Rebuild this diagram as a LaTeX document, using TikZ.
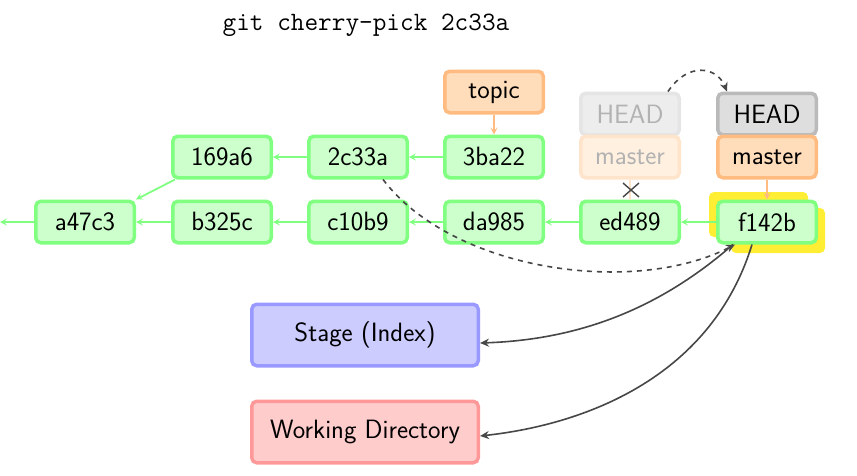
\documentclass[tikz,border=0pt]{standalone}
\usetikzlibrary{arrows.meta}
\begin{document}
\begin{tikzpicture}[x=1pt,y=-1pt,
  every node/.style={font=\sffamily\fontsize{26.5}{30}\selectfont},
  box/.style={rounded corners=5pt,line width=3.5pt,minimum width=98.5pt,minimum height=41.5pt,inner sep=0pt},
  commit/.style={box,draw=cgreenB,fill=cgreenF},
  branch/.style={box,draw=corangeB,fill=corangeF},
  oldbranch/.style={box,draw=corangeB!40,fill=corangeF!45,text=black!30},
  headbox/.style={box,draw=black!27,fill=black!13},
  oldhead/.style={box,draw=black!10,fill=black!7,text=black!30},
  area/.style={rounded corners=5pt,line width=3.5pt,minimum width=226.5pt,minimum height=61.5pt,inner sep=0pt},
  parent/.style={draw=cgreenB,line width=1.8pt,-{Stealth[length=7pt,width=7pt,inset=3pt]}},
  ref/.style={draw=corangeB,line width=1.8pt,-{Stealth[length=7pt,width=7pt,inset=3pt]}},
  flow/.style={draw=black!72,line width=1.6pt,-{Stealth[length=9pt,width=8pt,inset=3pt]}},
  dflow/.style={flow,dash pattern=on 5pt off 5pt}
]
\definecolor{cgreenB}{HTML}{80FF80}
\definecolor{cgreenF}{HTML}{CCFFCC}
\definecolor{corangeB}{HTML}{FFBB80}
\definecolor{corangeF}{HTML}{FFDDBB}
\definecolor{cyellow}{HTML}{FFEE33}
\useasboundingbox (0,0) rectangle (857,475);

\node[font=\ttfamily\fontsize{26.5}{30}\selectfont] (title) at (366,25) {git cherry-pick 2c33a};

% highlight behind f142b
\fill[cyellow,rounded corners=5pt] (709,192) rectangle (808,237);
\fill[cyellow,rounded corners=5pt] (731,208) rectangle (825,253);

% commits
\node[commit] (a47c3) at (85,222) {a47c3};
\node[commit] (b325c) at (222,222) {b325c};
\node[commit] (c10b9) at (358,222) {c10b9};
\node[commit] (da985) at (494,222) {da985};
\node[commit] (ed489) at (630,222) {ed489};
\node[commit] (f142b) at (767,222) {f142b};
\node[commit] (169a6) at (222,157) {169a6};
\node[commit] (2c33a) at (358,157) {2c33a};
\node[commit] (3ba22) at (494,157) {3ba22};

% refs
\node[branch] (topic) at (494,92) {topic};
\node[oldhead] (headold) at (630,114) {HEAD};
\node[oldbranch] (masterold) at (630,157) {master};
\node[headbox] (head) at (767,114) {HEAD};
\node[branch] (master) at (767,157) {master};

% areas
\node[area,draw=blue!40,fill=blue!20] (stage) at (365,335) {Stage (Index)};
\node[area,draw=red!40,fill=red!20] (wd) at (365,432) {Working Directory};

% parent links
\coordinate (root) at (0,222);
\draw[parent] (a47c3) -- (root);
\draw[parent] (b325c) -- (a47c3);
\draw[parent] (c10b9) -- (b325c);
\draw[parent] (da985) -- (c10b9);
\draw[parent] (ed489) -- (da985);
\draw[parent] (f142b) -- (ed489);
\coordinate (p1) at ([xshift=4]169a6.south west);
\draw[parent] (p1) -- (a47c3.north east);
\draw[parent] (2c33a) -- (169a6);
\draw[parent] (3ba22) -- (2c33a);

% ref links
\draw[ref] (topic) -- (3ba22);
\draw[ref] (master) -- (f142b);
\draw[draw=corangeB!40,line width=1.8pt] (masterold) -- (ed489);
\coordinate (x) at (631,190);
\draw[black!72,line width=1.4pt] ([shift={(-8,-7)}]x) -- ([shift={(8,7)}]x) ([shift={(-8,7)}]x) -- ([shift={(8,-7)}]x);

% HEAD move
\draw[dflow] ([xshift=38]headold.north) .. controls +(20,-30) and +(-10,-25) .. ([xshift=-40]head.north);

% cherry-pick
\draw[dflow] ([xshift=25]2c33a.south) .. controls +(70,92) and +(-100,52) .. ([xshift=-32]f142b.south);

% reset of stage and working directory
\draw[flow] ([xshift=-34]f142b.south) .. controls +(-80,70) and +(90,-3) .. ([yshift=-8pt]stage.east);
\draw[flow] ([xshift=-15]f142b.south) .. controls +(-40,130) and +(110,-12) .. ([yshift=-4pt]wd.east);
\end{tikzpicture}
\end{document}
